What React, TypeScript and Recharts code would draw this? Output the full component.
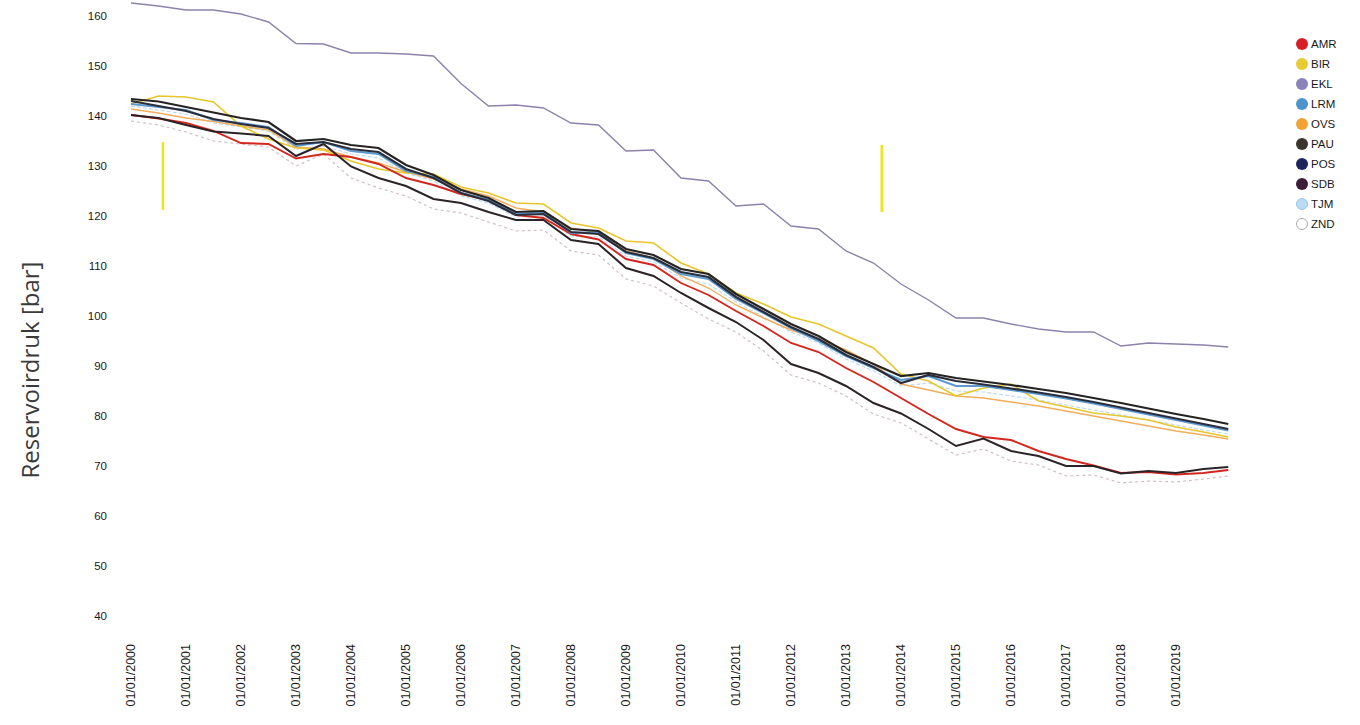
import React from 'react';
import { LineChart, Line, XAxis, YAxis, Legend, ReferenceLine } from 'recharts';

const times = [
  2000, 2000.5, 2001, 2001.5, 2002, 2002.5, 2003, 2003.5, 2004, 2004.5,
  2005, 2005.5, 2006, 2006.5, 2007, 2007.5, 2008, 2008.5, 2009, 2009.5,
  2010, 2010.5, 2011, 2011.5, 2012, 2012.5, 2013, 2013.5, 2014, 2014.5,
  2015, 2015.5, 2016, 2016.5, 2017, 2017.5, 2018, 2018.5, 2019, 2019.5, 2019.95,
];

const AMR = [
  140.2, 139.5, 138.6, 137.0, 134.6, 134.4, 131.5, 132.4, 131.8, 130.4,
  127.6, 126.2, 124.4, 123.2, 120.2, 119.6, 116.4, 115.3, 111.4, 110.2,
  106.6, 104.2, 101.0, 98.0, 94.6, 92.8, 89.6, 86.8, 83.6, 80.4,
  77.4, 75.8, 75.2, 73.0, 71.4, 70.1, 68.6, 68.8, 68.3, 68.6, 69.2,
];
const BIR = [
  142.4, 144.0, 143.8, 142.8, 138.0, 135.4, 133.6, 133.2, 131.0, 129.4,
  128.6, 128.4, 125.8, 124.6, 122.6, 122.4, 118.6, 117.6, 115.0, 114.6,
  110.6, 108.4, 104.6, 102.4, 99.8, 98.4, 96.0, 93.6, 88.4, 87.0,
  84.0, 85.6, 86.4, 83.0, 81.8, 80.6, 80.0, 79.2, 77.8, 76.8, 75.8,
];
const EKL = [
  162.6, 162.0, 161.2, 161.2, 160.4, 158.8, 154.5, 154.4, 152.6, 152.6,
  152.4, 152.0, 146.5, 142.0, 142.2, 141.6, 138.6, 138.2, 133.0, 133.2,
  127.6, 127.0, 122.0, 122.4, 118.0, 117.4, 113.0, 110.6, 106.4, 103.2,
  99.6, 99.6, 98.4, 97.4, 96.8, 96.8, 94.0, 94.6, 94.4, 94.2, 93.8,
];
const LRM = [
  142.4, 141.8, 141.2, 139.2, 138.6, 137.8, 134.0, 134.8, 133.0, 132.4,
  129.0, 127.8, 124.6, 123.2, 120.4, 120.8, 116.6, 116.8, 112.6, 111.4,
  108.4, 107.4, 103.4, 100.6, 97.6, 95.0, 92.0, 89.6, 87.2, 88.0,
  86.0, 86.0, 85.2, 84.4, 83.5, 82.5, 81.4, 80.3, 79.2, 78.1, 77.1,
];
const OVS = [
  141.4, 140.6, 139.6, 138.9, 138.0, 137.2, 133.8, 133.4, 131.8, 130.6,
  128.8, 127.4, 125.4, 124.0, 121.6, 120.8, 117.6, 116.6, 113.0, 111.6,
  108.0, 105.6, 102.2, 99.6, 97.2, 95.4, 93.2, 90.4, 86.4, 85.2,
  84.0, 83.6, 82.8, 82.0, 81.0, 80.0, 79.0, 78.0, 77.0, 76.2, 75.4,
];
const PAU = [
  143.4, 142.9, 141.8, 140.7, 139.6, 138.8, 135.0, 135.4, 134.2, 133.6,
  130.2, 128.2, 125.2, 123.6, 120.8, 121.0, 117.4, 117.0, 113.4, 112.2,
  109.4, 108.4, 104.4, 101.4, 98.4, 96.0, 92.8, 90.4, 88.0, 88.6,
  87.6, 86.9, 86.2, 85.4, 84.6, 83.6, 82.6, 81.5, 80.4, 79.4, 78.4,
];
const POS = [
  143.0, 142.0, 141.0, 139.4, 138.4, 137.6, 134.4, 134.8, 133.4, 132.8,
  129.4, 127.6, 124.6, 123.0, 120.2, 120.4, 116.8, 116.4, 112.8, 111.6,
  108.8, 107.8, 103.8, 100.8, 97.8, 95.4, 92.2, 89.8, 86.6, 88.2,
  87.0, 86.3, 85.5, 84.7, 83.8, 82.8, 81.7, 80.6, 79.5, 78.4, 77.4,
];
const SDB = [
  140.2, 139.6, 138.2, 136.9, 136.5, 136.0, 132.0, 134.4, 129.9, 127.6,
  126.0, 123.4, 122.6, 120.8, 119.2, 119.2, 115.2, 114.4, 109.6, 108.0,
  104.6, 101.6, 98.8, 95.2, 90.4, 88.6, 86.0, 82.6, 80.5, 77.4,
  74.0, 75.5, 73.0, 72.0, 70.0, 70.0, 68.5, 69.0, 68.6, 69.4, 69.8,
];
const TJM = [
  142.0, 141.2, 140.4, 138.6, 137.8, 137.0, 133.4, 134.0, 132.4, 131.6,
  128.6, 127.0, 124.0, 122.6, 119.8, 120.0, 116.0, 115.8, 112.0, 110.8,
  107.6, 106.4, 102.8, 99.8, 96.8, 94.6, 91.4, 89.0, 86.0, 86.6,
  85.0, 84.8, 84.0, 83.2, 82.2, 81.2, 80.2, 79.2, 78.2, 77.2, 76.4,
];
const ZND = [
  139.0, 138.2, 136.8, 135.0, 134.4, 133.8, 130.0, 132.4, 127.6, 125.6,
  124.0, 121.4, 120.6, 118.8, 117.0, 117.2, 113.0, 112.2, 107.4, 106.0,
  102.6, 99.4, 96.8, 93.0, 88.2, 86.6, 84.0, 80.4, 78.6, 75.4,
  72.2, 73.4, 71.0, 70.2, 68.0, 68.2, 66.6, 67.0, 66.8, 67.4, 68.0,
];

const seriesNames = ['AMR', 'BIR', 'EKL', 'LRM', 'OVS', 'PAU', 'POS', 'SDB', 'TJM', 'ZND'];
const yTicks = [40, 50, 60, 70, 80, 90, 100, 110, 120, 130, 140, 150, 160];
const xTicks = [
  2000, 2001, 2002, 2003, 2004, 2005, 2006, 2007, 2008, 2009,
  2010, 2011, 2012, 2013, 2014, 2015, 2016, 2017, 2018, 2019,
];
// stray yellow marks on the original scan
const markT = [2000.58, 2013.65];
const markLow = [121.2, 120.8];
const markHigh = [134.8, 134.2];

const seriesValues: Record<string, number[]> = { AMR, BIR, EKL, LRM, OVS, PAU, POS, SDB, TJM, ZND };

const data = times.map((t, i) => {
  const row: Record<string, number> = { t };
  seriesNames.forEach((n) => {
    row[n] = seriesValues[n][i];
  });
  return row;
});

const lineStyle: Record<string, { stroke: string; width: number; dash?: string; opacity?: number }> = {
  ZND: { stroke: '#cbb8c0', width: 1.2, dash: '3 3', opacity: 0.9 },
  TJM: { stroke: '#b9d6ee', width: 1.2, dash: '4 2', opacity: 0.9 },
  OVS: { stroke: '#f2ad5c', width: 1.4 },
  BIR: { stroke: '#e7c62c', width: 1.6 },
  AMR: { stroke: '#d3261f', width: 1.9 },
  LRM: { stroke: '#5c9ad0', width: 2 },
  SDB: { stroke: '#2b2327', width: 2 },
  POS: { stroke: '#2a2d3a', width: 2.2 },
  PAU: { stroke: '#262422', width: 2.2 },
  EKL: { stroke: '#8d82ac', width: 1.4 },
};
const drawOrder = ['ZND', 'TJM', 'OVS', 'BIR', 'AMR', 'LRM', 'SDB', 'POS', 'PAU', 'EKL'];

const legendFill: Record<string, string> = {
  AMR: '#d91f26',
  BIR: '#e9c934',
  EKL: '#8a83b9',
  LRM: '#4e94cc',
  OVS: '#f1a234',
  PAU: '#3b342d',
  POS: '#1d2559',
  SDB: '#3b1c39',
  TJM: '#b9dcf4',
  ZND: '#ffffff',
};

const renderLegend = (props: any) => {
  const payload = [...(props.payload || [])].sort(
    (a: any, b: any) => seriesNames.indexOf(a.value) - seriesNames.indexOf(b.value)
  );
  return (
    <div style={{ display: 'flex', flexDirection: 'column' }}>
      {payload.map((p: any) => (
        <div key={p.value} style={{ height: 20, display: 'flex', alignItems: 'center' }}>
          <span
            style={{
              display: 'inline-block',
              width: 12,
              height: 12,
              borderRadius: 6,
              boxSizing: 'border-box',
              background: legendFill[p.value],
              border: p.value === 'ZND' ? '1px solid #aaa' : p.value === 'TJM' ? '1px solid #9cc4e4' : 'none',
              marginRight: 3,
            }}
          />
          <span style={{ fontFamily: '"Liberation Sans", Arial, sans-serif', fontSize: 11.5, color: '#1a1a1a' }}>
            {p.value}
          </span>
        </div>
      ))}
    </div>
  );
};

const XTick = (props: any) => {
  const { x, y, payload } = props;
  return (
    <text
      x={x}
      y={y}
      transform={`rotate(-90 ${x} ${y})`}
      textAnchor="end"
      dominantBaseline="central"
      fontFamily='"Liberation Sans", Arial, sans-serif'
      fontSize={12.5}
      fill="#1a1a1a"
    >
      {`01/01/${payload.value}`}
    </text>
  );
};

const YLabel = (props: any) => {
  const vb = props.viewBox || { x: 0, y: 1, width: 131, height: 636 };
  const cx = vb.x + 29;
  const cy = vb.y + vb.height / 2 + 51;
  return (
    <text
      x={cx}
      y={cy}
      transform={`rotate(-90 ${cx} ${cy})`}
      textAnchor="middle"
      dominantBaseline="central"
      fontFamily='"Open Sans", sans-serif'
      fontSize={24}
      fill="#3a3a3a"
    >
      Reservoirdruk [bar]
    </text>
  );
};

export default function App() {
  return (
    <div style={{ position: 'absolute', left: 0, top: 0, width: 1360, height: 725, background: '#fff' }}>
      <LineChart width={1360} height={725} data={data} margin={{ top: 1, right: 129, bottom: 0, left: 0 }}>
        <XAxis
          dataKey="t"
          type="number"
          domain={[2000, 2020]}
          ticks={xTicks}
          interval={0}
          height={88}
          axisLine={false}
          tickLine={false}
          tickSize={0}
          tickMargin={7}
          tick={<XTick />}
        />
        <YAxis
          type="number"
          domain={[35.8, 163]}
          allowDataOverflow
          ticks={yTicks}
          interval={0}
          width={131}
          axisLine={false}
          tickLine={false}
          tickSize={0}
          tickMargin={24}
          tick={{ fontSize: 11.5, fill: '#1a1a1a', fontFamily: '"Liberation Sans", Arial, sans-serif' }}
          label={<YLabel />}
        />
        {markT.map((t, i) => (
          <ReferenceLine
            key={`m${i}`}
            segment={[
              { x: t, y: markLow[i] },
              { x: t, y: markHigh[i] },
            ]}
            stroke="#f2e21a"
            strokeWidth={2.5}
          />
        ))}
        {drawOrder.map((n) => (
          <Line
            key={n}
            dataKey={n}
            name={n}
            type="linear"
            stroke={lineStyle[n].stroke}
            strokeWidth={lineStyle[n].width}
            strokeDasharray={lineStyle[n].dash}
            strokeOpacity={lineStyle[n].opacity ?? 1}
            dot={false}
            activeDot={false}
            isAnimationActive={false}
            legendType="circle"
          />
        ))}
        <Legend
          layout="vertical"
          align="center"
          verticalAlign="middle"
          content={renderLegend}
          wrapperStyle={{ position: 'absolute', left: 1296, top: 34, width: 60, height: 200 }}
        />
      </LineChart>
    </div>
  );
}
